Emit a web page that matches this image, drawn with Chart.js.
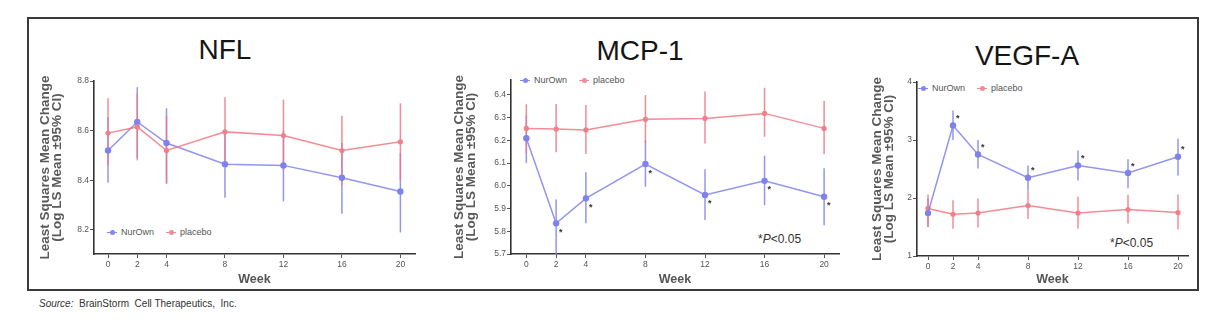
<!DOCTYPE html>
<html><head><meta charset="utf-8">
<script src="https://cdn.jsdelivr.net/npm/chart.js@4"></script>
<style>
body{margin:0;background:#fff;width:1216px;height:326px;overflow:hidden;font-family:"Liberation Sans",Arial,sans-serif;position:relative;}
#frame{position:absolute;left:27px;top:17px;width:1168px;height:270px;border:2px solid #3a3a3a;}
.cv{position:absolute;}
.ttl{position:absolute;font-size:28px;color:#151515;transform:translate(-50%,-50%);white-space:nowrap;}
.leg{position:absolute;font-size:9px;color:#555;white-space:nowrap;display:flex;align-items:center;}
.mk{display:inline-block;position:relative;width:10px;height:8px;margin-right:4px;}
.mk:before{content:"";position:absolute;left:0;top:3.5px;width:10px;height:1px;background:currentColor;}
.mk:after{content:"";position:absolute;left:2.5px;top:1.5px;width:5px;height:5px;border-radius:50%;background:currentColor;}
.pv{position:absolute;font-size:12px;color:#333;white-space:nowrap;transform:translateY(-50%);}
#src{position:absolute;left:39px;top:298px;font-size:10px;color:#333;white-space:nowrap;}
</style>
</head><body>
<div id="frame"></div>
<div class="ttl" style="left:225px;top:50px">NFL</div>
<div class="ttl" style="left:640px;top:51px">MCP-1</div>
<div class="ttl" style="left:1027px;top:56px">VEGF-A</div>

<div class="leg" style="left:107px;top:227px"><span class="mk" style="color:#8587ec"></span><span>NurOwn</span><span class="mk" style="color:#f08a94;margin-left:12px"></span><span>placebo</span></div>
<div class="leg" style="left:520px;top:75px"><span class="mk" style="color:#8587ec"></span><span>NurOwn</span><span class="mk" style="color:#f08a94;margin-left:12px"></span><span>placebo</span></div>
<div class="leg" style="left:918px;top:83px"><span class="mk" style="color:#8587ec"></span><span>NurOwn</span><span class="mk" style="color:#f08a94;margin-left:12px"></span><span>placebo</span></div>

<div class="pv" style="left:758px;top:239px">*<i>P</i>&lt;0.05</div>
<div class="pv" style="left:1110px;top:243px">*<i>P</i>&lt;0.05</div>
<div id="src"><i>Source:</i>&nbsp; BrainStorm&nbsp; Cell Therapeutics,&nbsp; Inc.</div>

<script>
// ---- data ----
const weeks = [0, 2, 4, 8, 12, 16, 20];

const nflNurOwn   = [8.52, 8.635, 8.55, 8.465, 8.46, 8.41, 8.355];
const nflNurOwnLo = [8.39, 8.49, 8.39, 8.33, 8.315, 8.265, 8.19];
const nflNurOwnHi = [8.655, 8.775, 8.69, 8.60, 8.60, 8.55, 8.51];
const nflPlacebo   = [8.59, 8.615, 8.52, 8.595, 8.58, 8.52, 8.555];
const nflPlaceboLo = [8.46, 8.48, 8.385, 8.46, 8.44, 8.38, 8.40];
const nflPlaceboHi = [8.73, 8.75, 8.66, 8.735, 8.725, 8.66, 8.71];
const nflSig = [false, false, false, false, false, false, false];
const nflYTicks = [8.2, 8.4, 8.6, 8.8];

const mcpNurOwn   = [6.21, 5.835, 5.945, 6.096, 5.96, 6.022, 5.952];
const mcpNurOwnLo = [6.10, 5.70, 5.835, 5.996, 5.85, 5.915, 5.827];
const mcpNurOwnHi = [6.31, 5.94, 6.06, 6.20, 6.073, 6.133, 6.077];
const mcpPlacebo   = [6.253, 6.25, 6.246, 6.293, 6.297, 6.319, 6.253];
const mcpPlaceboLo = [6.143, 6.148, 6.14, 6.187, 6.187, 6.216, 6.139];
const mcpPlaceboHi = [6.359, 6.36, 6.356, 6.40, 6.415, 6.432, 6.375];
const mcpSig = [false, true, true, true, true, true, true];
const mcpYTicks = [5.7, 5.8, 5.9, 6.0, 6.1, 6.2, 6.3, 6.4];

const vegNurOwn   = [1.74, 3.25, 2.75, 2.35, 2.56, 2.43, 2.71];
const vegNurOwnLo = [1.50, 3.00, 2.51, 2.13, 2.30, 2.17, 2.39];
const vegNurOwnHi = [1.99, 3.51, 3.00, 2.56, 2.82, 2.67, 3.02];
const vegPlacebo   = [1.82, 1.72, 1.74, 1.87, 1.74, 1.80, 1.75];
const vegPlaceboLo = [1.50, 1.47, 1.49, 1.64, 1.47, 1.56, 1.46];
const vegPlaceboHi = [2.06, 1.96, 1.99, 2.13, 2.02, 2.06, 2.06];
const vegSig = [false, true, true, true, true, true, true];
const vegYTicks = [1, 2, 3, 4];

// ---- styles ----
const BLUE = 'rgba(128,130,235,0.85)';
const BLUE_PT = '#7f82ea';
const RED = 'rgba(240,120,132,0.85)';
const RED_PT = '#ef7f8b';
const FONT = '"Liberation Sans", Arial, sans-serif';

const errorBars = {
  id: 'errorBars',
  beforeDatasetsDraw(chart) {
    const {ctx, scales: {x, y}} = chart;
    chart.data.datasets.forEach(ds => {
      ctx.save();
      ctx.strokeStyle = ds.borderColor;
      ctx.lineWidth = 1.5;
      ds.data.forEach((p, i) => {
        const px = x.getPixelForValue(p.x);
        ctx.beginPath();
        ctx.moveTo(px, y.getPixelForValue(ds.lo[i]));
        ctx.lineTo(px, y.getPixelForValue(ds.hi[i]));
        ctx.stroke();
      });
      ctx.restore();
    });
  },
  afterDatasetsDraw(chart) {
    const {ctx, scales: {x, y}} = chart;
    const dy = chart.options.plugins.errorBars.starDy;
    chart.data.datasets.forEach(ds => {
      if (!ds.sig) return;
      ctx.save();
      ctx.fillStyle = '#333';
      ctx.font = 'bold 9px ' + FONT;
      ctx.textAlign = 'left';
      ctx.textBaseline = 'middle';
      ds.data.forEach((p, i) => {
        if (!ds.sig[i]) return;
        ctx.fillText('*', x.getPixelForValue(p.x) + 3, y.getPixelForValue(p.y) + dy);
      });
      ctx.restore();
    });
  }
};

function makePanel(p) {
  const c = document.createElement('canvas');
  c.className = 'cv';
  c.width = p.box.w; c.height = p.box.h;
  c.style.left = p.box.l + 'px'; c.style.top = p.box.t + 'px';
  document.body.appendChild(c);
  const pts = arr => weeks.map((w, i) => ({x: w, y: arr[i]}));
  new Chart(c, {
    type: 'line',
    data: {datasets: [
      {label: 'NurOwn', data: pts(p.nur), lo: p.nurLo, hi: p.nurHi, sig: p.sig,
       borderColor: BLUE, backgroundColor: BLUE_PT, pointBackgroundColor: BLUE_PT, pointBorderWidth: 0,
       pointRadius: 3.2, borderWidth: 1.5, tension: 0, order: p.blueOrder},
      {label: 'placebo', data: pts(p.pla), lo: p.plaLo, hi: p.plaHi, sig: null,
       borderColor: RED, backgroundColor: RED_PT, pointBackgroundColor: RED_PT, pointBorderWidth: 0,
       pointRadius: 2.6, borderWidth: 1.5, tension: 0, order: p.redOrder}
    ]},
    options: {
      responsive: false, animation: false, events: [],
      layout: {padding: {left: 0, bottom: 0, top: p.area.t - p.box.t, right: p.box.l + p.box.w - p.area.r}},
      plugins: {legend: {display: false}, tooltip: {enabled: false}, errorBars: {starDy: p.starDy}},
      scales: {
        x: {
          type: 'linear', min: p.xMin, max: p.xMax,
          afterBuildTicks: s => { s.ticks = weeks.map(v => ({value: v})); },
          afterFit: s => { s.height = p.box.t + p.box.h - p.area.b; },
          grid: {drawOnChartArea: false, drawTicks: true, tickLength: 4, color: '#555', lineWidth: 1},
          border: {display: true, color: '#333', width: 1.6},
          ticks: {font: {size: 8.5, family: FONT}, color: '#555', padding: 2, autoSkip: false, maxRotation: 0},
          title: {display: true, text: 'Week', font: {size: 12.5, weight: 'bold', family: FONT}, color: '#555', padding: {top: 2, bottom: 5}}
        },
        y: {
          min: p.yMin, max: p.yMax,
          afterBuildTicks: s => { s.ticks = p.yTicks.map(v => ({value: v})); },
          afterFit: s => { s.width = p.area.l - p.box.l; },
          grid: {drawOnChartArea: false, drawTicks: true, tickLength: 4, color: '#555', lineWidth: 1},
          border: {display: true, color: '#333', width: 1.6},
          ticks: {font: {size: 8.5, family: FONT}, color: '#555', padding: 1, autoSkip: false,
                  callback: v => p.yFmt(v)},
          title: {display: true, text: ['Least Squares Mean Change', '(Log LS Mean \u00b195% CI)'],
                  font: {size: 13.5, weight: 'bold', family: FONT, lineHeight: 0.9}, color: '#5a5a5a', padding: {top: 0, bottom: 4}}
        }
      }
    },
    plugins: [errorBars]
  });
}

makePanel({
  box: {l: 39, t: 60, w: 383, h: 232}, area: {l: 94, t: 81, r: 415, b: 254},
  xMin: -0.96, xMax: 21, yMin: 8.103, yMax: 8.8, yTicks: nflYTicks, yFmt: v => v.toFixed(1),
  nur: nflNurOwn, nurLo: nflNurOwnLo, nurHi: nflNurOwnHi,
  pla: nflPlacebo, plaLo: nflPlaceboLo, plaHi: nflPlaceboHi, sig: nflSig,
  starDy: 8, blueOrder: 2, redOrder: 1
});
makePanel({
  box: {l: 453, t: 60, w: 392, h: 232}, area: {l: 511, t: 80, r: 839, b: 254},
  xMin: -1.03, xMax: 21, yMin: 5.7, yMax: 6.466, yTicks: mcpYTicks, yFmt: v => v.toFixed(1),
  nur: mcpNurOwn, nurLo: mcpNurOwnLo, nurHi: mcpNurOwnHi,
  pla: mcpPlacebo, plaLo: mcpPlaceboLo, plaHi: mcpPlaceboHi, sig: mcpSig,
  starDy: 9, blueOrder: 1, redOrder: 2
});
makePanel({
  box: {l: 871, t: 60, w: 323, h: 232}, area: {l: 917, t: 82, r: 1188, b: 256},
  xMin: -0.88, xMax: 20.8, yMin: 1, yMax: 4, yTicks: vegYTicks, yFmt: v => String(v),
  nur: vegNurOwn, nurLo: vegNurOwnLo, nurHi: vegNurOwnHi,
  pla: vegPlacebo, plaLo: vegPlaceboLo, plaHi: vegPlaceboHi, sig: vegSig,
  starDy: -7, blueOrder: 1, redOrder: 2
});
</script>
</body></html>
